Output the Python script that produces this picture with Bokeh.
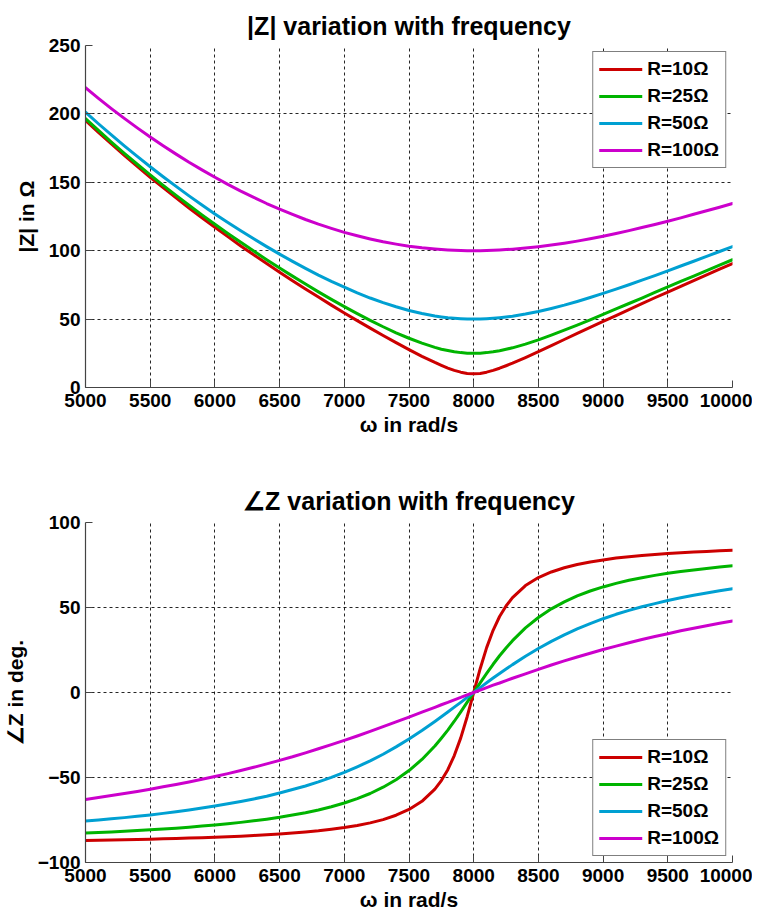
from bokeh.plotting import figure
from bokeh.layouts import column
from bokeh.models import FixedTicker, Legend, LegendItem
from bokeh.embed import file_html
from bokeh.resources import INLINE

# angular frequency samples (rad/s)
w = [5000, 5100, 5200, 5300, 5400, 5500, 5600, 5700, 5800, 5900,
     6000, 6100, 6200, 6300, 6400, 6500, 6600, 6700, 6800, 6900,
     7000, 7100, 7200, 7300, 7400, 7500, 7600, 7700,
     7750, 7800, 7850, 7900, 7950, 8000, 8050, 8100, 8150, 8200, 8250,
     8300, 8400, 8500, 8600, 8700, 8800, 8900, 9000, 9100, 9200,
     9300, 9400, 9500, 9600, 9700, 9800, 9900, 10000]

# |Z| in ohm
z_r10 = [195.3, 186.5, 178.0, 169.7, 161.6, 153.7, 146.1, 138.6, 131.2, 124.1,
         117.1, 110.3, 103.5, 97.0, 90.6, 84.3, 78.1, 72.0, 66.1, 60.2,
         54.5, 48.9, 43.4, 38.0, 32.8, 27.7, 22.8, 18.3,
         16.2, 14.2, 12.5, 11.2, 10.3, 10.0, 10.3, 11.2, 12.5, 14.1, 15.9,
         17.8, 21.9, 26.2, 30.6, 35.1, 39.5, 43.9, 48.3, 52.6, 57.0,
         61.3, 65.6, 69.8, 74.0, 78.2, 82.3, 86.5, 90.6]
z_r25 = [196.6, 187.9, 179.4, 171.2, 163.2, 155.4, 147.8, 140.4, 133.2, 126.2,
         119.3, 112.6, 106.1, 99.7, 93.4, 87.3, 81.4, 75.6, 69.9, 64.4,
         59.1, 54.0, 49.1, 44.4, 40.0, 36.0, 32.4, 29.3,
         28.0, 27.0, 26.1, 25.5, 25.1, 25.0, 25.1, 25.5, 26.1, 26.9, 27.9,
         29.0, 31.7, 34.8, 38.3, 41.9, 45.6, 49.5, 53.4, 57.4, 61.4,
         65.4, 69.5, 73.5, 77.5, 81.5, 85.5, 89.5, 93.4]
z_r50 = [201.3, 192.8, 184.6, 176.6, 168.9, 161.4, 154.1, 147.0, 140.1, 133.4,
         126.9, 120.7, 114.6, 108.7, 103.0, 97.5, 92.2, 87.1, 82.2, 77.6,
         73.3, 69.2, 65.4, 62.0, 59.0, 56.3, 54.1, 52.3,
         51.6, 51.0, 50.6, 50.3, 50.1, 50.0, 50.1, 50.3, 50.6, 51.0, 51.5,
         52.1, 53.7, 55.6, 57.8, 60.2, 62.9, 65.8, 68.8, 71.9, 75.1,
         78.5, 81.8, 85.3, 88.8, 92.3, 95.8, 99.4, 103.0]
z_r100 = [219.2, 211.4, 203.9, 196.7, 189.8, 183.1, 176.7, 170.6, 164.7, 159.1,
          153.7, 148.5, 143.6, 139.0, 134.5, 130.4, 126.5, 122.8, 119.4, 116.3,
          113.4, 110.9, 108.6, 106.5, 104.8, 103.3, 102.1, 101.2,
          100.8, 100.5, 100.3, 100.1, 100.0, 100.0, 100.0, 100.1, 100.3, 100.5, 100.8,
          101.1, 101.9, 102.9, 104.1, 105.5, 107.0, 108.7, 110.6, 112.6, 114.7,
          116.9, 119.2, 121.5, 124.0, 126.6, 129.2, 131.8, 134.5]

# angle of Z in degrees
p_r10 = [-87.1, -86.9, -86.8, -86.6, -86.5, -86.3, -86.1, -85.9, -85.6, -85.4,
         -85.1, -84.8, -84.5, -84.1, -83.7, -83.2, -82.6, -82.0, -81.3, -80.4,
         -79.4, -78.2, -76.7, -74.8, -72.2, -68.8, -64.0, -56.8,
         -51.8, -45.4, -37.1, -26.7, -14.1, 0.0, 14.0, 26.4, 36.6, 44.7, 50.9,
         55.8, 62.9, 67.6, 70.9, 73.4, 75.3, 76.8, 78.0, 79.1, 79.9,
         80.6, 81.2, 81.8, 82.2, 82.7, 83.0, 83.4, 83.7]
p_r25 = [-82.7, -82.4, -82.0, -81.6, -81.2, -80.7, -80.3, -79.8, -79.2, -78.6,
         -77.9, -77.2, -76.4, -75.5, -74.5, -73.4, -72.1, -70.7, -69.1, -67.2,
         -65.0, -62.4, -59.4, -55.7, -51.3, -45.9, -39.4, -31.5,
         -26.9, -22.1, -16.9, -11.4, -5.7, 0.0, 5.7, 11.2, 16.6, 21.6, 26.2,
         30.5, 38.0, 44.1, 49.2, 53.3, 56.8, 59.7, 62.1, 64.2, 66.0,
         67.5, 68.9, 70.1, 71.2, 72.1, 73.0, 73.8, 74.5]
p_r50 = [-75.6, -75.0, -74.3, -73.6, -72.8, -72.0, -71.1, -70.1, -69.1, -68.0,
         -66.8, -65.5, -64.1, -62.6, -61.0, -59.1, -57.1, -55.0, -52.6, -49.9,
         -47.0, -43.7, -40.2, -36.3, -32.0, -27.3, -22.3, -17.0,
         -14.3, -11.5, -8.6, -5.8, -2.9, 0.0, 2.9, 5.7, 8.5, 11.2, 13.8,
         16.4, 21.3, 25.9, 30.1, 33.9, 37.4, 40.5, 43.4, 46.0, 48.3,
         50.4, 52.3, 54.1, 55.7, 57.2, 58.5, 59.8, 61.0]
p_r100 = [-62.9, -61.8, -60.6, -59.4, -58.2, -56.9, -55.5, -54.1, -52.6, -51.0,
          -49.4, -47.7, -45.9, -44.0, -42.0, -39.9, -37.8, -35.5, -33.1, -30.7,
          -28.2, -25.6, -22.9, -20.1, -17.3, -14.5, -11.6, -8.7,
          -7.2, -5.8, -4.3, -2.9, -1.4, 0.0, 1.4, 2.9, 4.3, 5.6, 7.0,
          8.4, 11.0, 13.6, 16.2, 18.6, 20.9, 23.1, 25.3, 27.3, 29.3,
          31.2, 32.9, 34.6, 36.3, 37.8, 39.3, 40.7, 42.0]

labels = ["R=10\u03a9", "R=25\u03a9", "R=50\u03a9", "R=100\u03a9"]
colors = ["#cc0000", "#00b400", "#00a0d2", "#cc00cc"]
x_ticks = [5000, 5500, 6000, 6500, 7000, 7500, 8000, 8500, 9000, 9500, 10000]
z_ticks = [0, 50, 100, 150, 200, 250]
p_ticks = [-100, -50, 0, 50, 100]

for s in (z_r10, z_r25, z_r50, z_r100, p_r10, p_r25, p_r50, p_r100):
    assert len(s) == len(w), len(s)

FONT = "Liberation Sans"


def make_fig(title, ylabel, yrange, yticks, series, top, frame_h, bottom,
             legend_loc, title_standoff):
    p = figure(width=752, height=top + frame_h + bottom,
               x_range=(5000, 10000), y_range=yrange,
               output_backend="svg", toolbar_location=None,
               min_border_left=81, min_border_right=20,
               min_border_top=top, min_border_bottom=bottom)
    p.title.text = title
    p.title.align = "center"
    p.title.text_font = FONT
    p.title.text_font_size = "25px"
    p.title.text_font_style = "bold"
    p.title.text_color = "black"
    p.title.offset = 0
    p.title.standoff = title_standoff
    p.outline_line_color = None
    p.background_fill_color = "white"
    p.border_fill_color = "white"

    for ax in (p.xaxis, p.yaxis):
        ax.axis_line_color = "#444444"
        ax.axis_line_width = 1.2
        ax.major_tick_line_color = "#444444"
        ax.major_tick_in = 7
        ax.major_tick_out = 0
        ax.minor_tick_line_color = None
        ax.major_label_text_font = FONT
        ax.major_label_text_font_style = "bold"
        ax.major_label_text_font_size = "19px"
        ax.major_label_text_color = "black"
        ax.axis_label_text_font = FONT
        ax.axis_label_text_font_style = "bold"
        ax.axis_label_text_font_size = "21px"
        ax.axis_label_text_color = "black"
    p.xaxis.ticker = FixedTicker(ticks=x_ticks)
    p.yaxis.ticker = FixedTicker(ticks=yticks)
    p.xaxis.axis_label = "\u03c9 in rad/s"
    p.yaxis.axis_label = ylabel
    p.xaxis.major_label_standoff = 6
    p.yaxis.major_label_standoff = 5
    p.xaxis.axis_label_standoff = 3
    p.yaxis.axis_label_standoff = 8

    for g in (p.xgrid, p.ygrid):
        g.grid_line_color = "black"
        g.grid_line_dash = "3 3"
        g.grid_line_width = 1
        g.grid_line_alpha = 0.85

    items = []
    for ys, lab, col in zip(series, labels, colors):
        r = p.line(w, ys, line_color=col, line_width=3, line_join="round", line_cap="round")
        items.append(LegendItem(label=lab, renderers=[r]))
    leg = Legend(items=items, location=legend_loc)
    leg.label_text_font = FONT
    leg.label_text_font_style = "bold"
    leg.label_text_font_size = "19px"
    leg.label_text_color = "black"
    leg.glyph_width = 43
    leg.glyph_height = 20
    leg.label_height = 20
    leg.spacing = 5
    leg.padding = 6
    leg.margin = 6
    leg.label_standoff = 5
    leg.border_line_color = "black"
    leg.border_line_width = 1
    leg.background_fill_color = "white"
    leg.background_fill_alpha = 1
    p.add_layout(leg, "center")
    return p


p1 = make_fig("|Z| variation with frequency", "|Z| in \u03a9", (0, 250), z_ticks,
              [z_r10, z_r25, z_r50, z_r100], 45, 342, 65, "top_right", 11)
p2 = make_fig("\u2220Z variation with frequency", "\u2220Z in deg.", (-100, 100), p_ticks,
              [p_r10, p_r25, p_r50, p_r100], 70, 341, 50, "bottom_right", 15)

layout = column(p1, p2, spacing=0)
open("out.html", "w").write(file_html(layout, INLINE))
